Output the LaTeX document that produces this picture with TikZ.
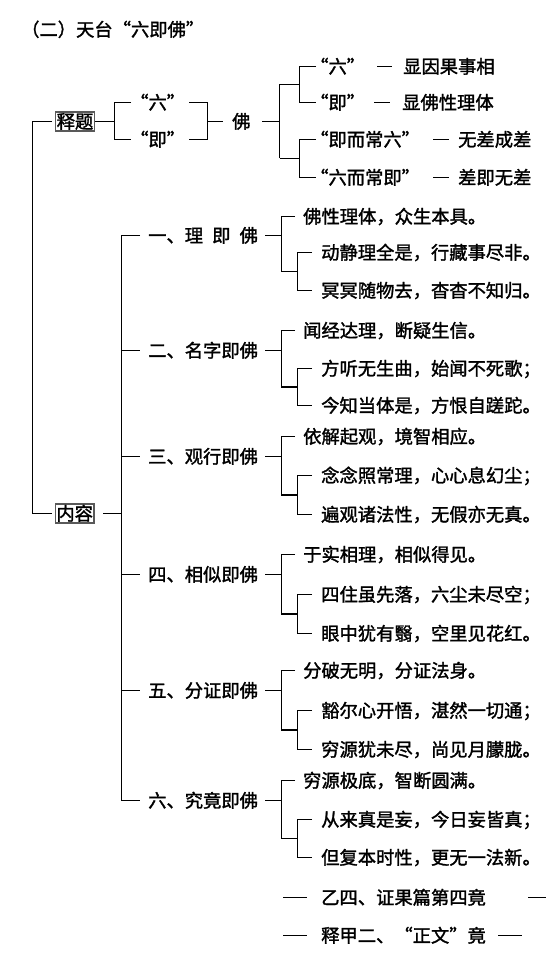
\documentclass[tikz,border=0pt]{standalone}
\usepackage{fontspec}
\newfontfamily\cjk{Noto Sans CJK SC}[FakeBold=1.6]
\usetikzlibrary{calc}
\begin{document}
\begin{tikzpicture}[x=1pt,y=-1pt,
  conn/.style={line width=1.4pt},
  txt/.style={font=\cjk\fontsize{18.3}{20}\selectfont, inner sep=0pt, anchor=west, text height=15.8pt, text depth=2.2pt},
  boxed/.style={font=\cjk\fontsize{18.3}{20}\selectfont, draw=black!65, line width=1.1pt, inner xsep=1pt, inner ysep=0.5pt, text height=15.8pt, text depth=2.2pt}]
\useasboundingbox (0,0) rectangle (546,960);
% column coordinates
\foreach \n/\x in {32h/32.5,52/52,103/103,114h/114.5,131/131,121h/121.5,140/140,189/189,207h/207.5,223/223,262/262,279h/279.5,299h/299.5,316/316,265/265,281h/281.5,295/295,297h/297.5,312/312,283/283,307/307,528/528,546/546,498/498,522/522}
  {\coordinate (x\n) at (\x,0);}
% title
\node[txt] (title) at (21,29.5) {（二）天台“六即佛”};
% left level
\node[boxed] (shiti) at (75,121.5) {释题};
\node[boxed] (neirong) at (74.7,513.5) {内容};
\draw[conn] (shiti -| x52) -- (shiti -| x32h) -- (neirong -| x32h) -- (neirong -| x52);
% shiti branch
\node[txt] (q1) at (130,102.5) {“六”};
\node[txt] (q2) at (130,139.5) {“即”};
\draw[conn] (shiti.east) -- (shiti -| x114h);
\draw[conn] (q1 -| x131) -- (q1 -| x114h) -- (q2 -| x114h) -- (q2 -| x131);
\draw[conn] (q1 -| x189) -- (q1 -| x207h) -- (q2 -| x207h) -- (q2 -| x189);
\node[txt] (fo) at (232,121.5) {佛};
\draw[conn] (fo -| x207h) -- (fo -| x223);
\draw[conn] (fo -| x262) -- (fo -| x279h);
% top right
\node[txt] (r1) at (310,66.5) {“六”};
\node[txt] (r2) at (310,102.5) {“即”};
\node[txt] (r3) at (310,139.5) {“即而常六”};
\node[txt] (r4) at (310,177.5) {“六而常即”};
\node[txt] (e1) at (403,66.5) {显因果事相};
\node[txt] (e2) at (402,102.5) {显佛性理体};
\node[txt] (e3) at (458,139.5) {无差成差};
\node[txt] (e4) at (458,177.5) {差即无差};
\coordinate (m01) at ($(r1.west)!.5!(r2.west)$);
\coordinate (m02) at ($(r3.west)!.5!(r4.west)$);
\draw[conn] (m01 -| x279h) -- (m02 -| x279h);
\draw[conn] (m01 -| x279h) -- (m01 -| x299h);
\draw[conn] (m02 -| x279h) -- (m02 -| x299h);
\draw[conn] (r1 -| x316) -- (r1 -| x299h) -- (r2 -| x299h) -- (r2 -| x316);
\draw[conn] (r3 -| x316) -- (r3 -| x299h) -- (r4 -| x299h) -- (r4 -| x316);
\draw[conn] ([xshift=-26pt]e1.west) -- ([xshift=-11pt]e1.west);
\draw[conn] ([xshift=-28pt]e2.west) -- ([xshift=-12pt]e2.west);
\draw[conn] ([xshift=-25pt]e3.west) -- ([xshift=-9pt]e3.west);
\draw[conn] ([xshift=-25pt]e4.west) -- ([xshift=-9pt]e4.west);
% level 2 nodes
\node[txt] (n1) at (148,235.5) {一、理\hspace{.5em}即\hspace{.5em}佛};
\node[txt] (a1) at (303,216.5) {佛性理体，众生本具。};
\node[txt] (b1) at (321,252.5) {动静理全是，行藏事尽非。};
\node[txt] (c1) at (321,290.5) {冥冥随物去，杳杳不知归。};
\node[txt] (n2) at (148,350.5) {二、名字即佛};
\node[txt] (a2) at (303,330.5) {闻经达理，断疑生信。};
\node[txt] (b2) at (321,368.5) {方听无生曲，始闻不死歌；};
\node[txt] (c2) at (321,405.5) {今知当体是，方恨自蹉跎。};
\node[txt] (n3) at (148,456.5) {三、观行即佛};
\node[txt] (a3) at (303,436.5) {依解起观，境智相应。};
\node[txt] (b3) at (321,475.5) {念念照常理，心心息幻尘；};
\node[txt] (c3) at (321,514.5) {遍观诸法性，无假亦无真。};
\node[txt] (n4) at (148,574.5) {四、相似即佛};
\node[txt] (a4) at (303,554.5) {于实相理，相似得见。};
\node[txt] (b4) at (321,594.5) {四住虽先落，六尘未尽空；};
\node[txt] (c4) at (321,633.5) {眼中犹有翳，空里见花红。};
\node[txt] (n5) at (148,690.5) {五、分证即佛};
\node[txt] (a5) at (303,670.5) {分破无明，分证法身。};
\node[txt] (b5) at (321,710.5) {豁尔心开悟，湛然一切通；};
\node[txt] (c5) at (321,749.5) {穷源犹未尽，尚见月朦胧。};
\node[txt] (n6) at (148,800.5) {六、究竟即佛};
\node[txt] (a6) at (303,780.5) {穷源极底，智断圆满。};
\node[txt] (b6) at (321,819.5) {从来真是妄，今日妄皆真；};
\node[txt] (c6) at (321,857.5) {但复本时性，更无一法新。};
% main vertical
\draw[conn] (neirong -| x103) -- (neirong -| x121h);
\draw[conn] (n1 -| x140) -- (n1 -| x121h) -- (n6 -| x121h) -- (n6 -| x140);
\foreach \k in {2,3,4,5} {\draw[conn] (n\k -| x121h) -- (n\k -| x140);}
% groups
\foreach \k in {1,...,6} {
  \coordinate (m\k) at ($(b\k.west)!.5!(c\k.west)$);
  \draw[conn] (n\k -| x265) -- (n\k -| x281h);
  \draw[conn] (a\k -| x295) -- (a\k -| x281h) -- (m\k -| x281h) -- (m\k -| x297h);
  \draw[conn] (b\k -| x312) -- (b\k -| x297h) -- (c\k -| x297h) -- (c\k -| x312);
}
% bottom
\node[txt] (t1) at (321,897.5) {乙四、证果篇第四竟};
\node[txt] (t2) at (321,935.5) {释甲二、“正文”竟};
\draw[conn] (t1 -| x283) -- (t1 -| x307);
\draw[conn] (t1 -| x528) -- (t1 -| x546);
\draw[conn] (t2 -| x283) -- (t2 -| x307);
\draw[conn] (t2 -| x498) -- (t2 -| x522);
\end{tikzpicture}
\end{document}
